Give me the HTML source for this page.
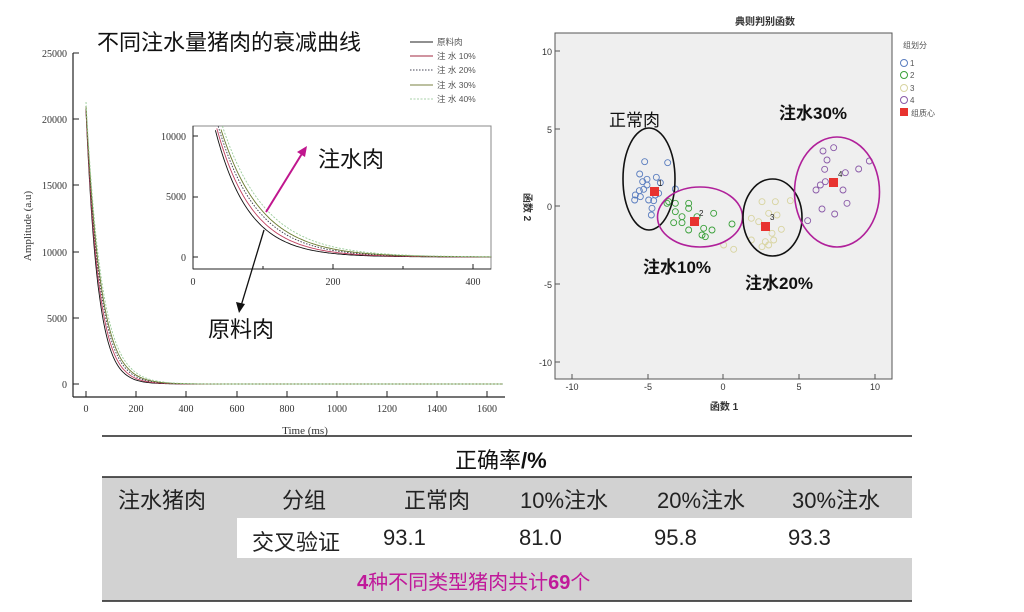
<!DOCTYPE html>
<html><head><meta charset="utf-8"><style>
body{margin:0;background:#fff;width:1024px;height:612px;overflow:hidden;position:relative;font-family:"Liberation Sans","Noto Sans CJK SC",sans-serif}
.t{position:absolute;white-space:nowrap}
</style></head><body>
<svg width="1024" height="612" style="position:absolute;left:0;top:0" xmlns="http://www.w3.org/2000/svg">
<!-- LEFT CHART -->
<g font-family="Liberation Serif,serif" font-size="10" fill="#333">
<line x1="73" y1="53" x2="73" y2="397" stroke="#222" stroke-width="1.2"/>
<line x1="73" y1="397" x2="505" y2="397" stroke="#222" stroke-width="1.2"/>
<g stroke="#222">
<line x1="73" y1="53" x2="79" y2="53"/><line x1="73" y1="119" x2="79" y2="119"/><line x1="73" y1="185" x2="79" y2="185"/><line x1="73" y1="252" x2="79" y2="252"/><line x1="73" y1="318" x2="79" y2="318"/><line x1="73" y1="384" x2="79" y2="384"/>
<line x1="86" y1="397" x2="86" y2="391"/><line x1="136" y1="397" x2="136" y2="391"/><line x1="186" y1="397" x2="186" y2="391"/><line x1="237" y1="397" x2="237" y2="391"/><line x1="287" y1="397" x2="287" y2="391"/><line x1="337" y1="397" x2="337" y2="391"/><line x1="387" y1="397" x2="387" y2="391"/><line x1="437" y1="397" x2="437" y2="391"/><line x1="487" y1="397" x2="487" y2="391"/>
</g>
<g text-anchor="end"><text x="67" y="57">25000</text><text x="67" y="123">20000</text><text x="67" y="189">15000</text><text x="67" y="256">10000</text><text x="67" y="322">5000</text><text x="67" y="388">0</text></g>
<g text-anchor="middle"><text x="86" y="412">0</text><text x="136" y="412">200</text><text x="186" y="412">400</text><text x="237" y="412">600</text><text x="287" y="412">800</text><text x="337" y="412">1000</text><text x="387" y="412">1200</text><text x="437" y="412">1400</text><text x="487" y="412">1600</text>
<text x="305" y="434" font-size="11">Time (ms)</text>
<text transform="translate(31 226) rotate(-90)" font-size="11">Amplitude (a.u)</text></g>
<g id="main"></g>
<!-- inset -->
<rect x="193" y="126" width="298" height="143" fill="#fff" stroke="#888" stroke-width="1"/>
<line x1="193" y1="126" x2="193" y2="269" stroke="#222"/><line x1="193" y1="269" x2="491" y2="269" stroke="#222"/>
<g stroke="#222"><line x1="193" y1="136" x2="198" y2="136"/><line x1="193" y1="197" x2="198" y2="197"/><line x1="193" y1="257" x2="198" y2="257"/><line x1="333" y1="269" x2="333" y2="264"/><line x1="473" y1="269" x2="473" y2="264"/><line x1="263" y1="269" x2="263" y2="266"/><line x1="403" y1="269" x2="403" y2="266"/></g>
<g text-anchor="end"><text x="186" y="140">10000</text><text x="186" y="200">5000</text><text x="186" y="261">0</text></g>
<g text-anchor="middle"><text x="193" y="285">0</text><text x="333" y="285">200</text><text x="473" y="285">400</text></g>
<g id="inset"></g>
</g>
<!-- arrows -->
<line x1="266" y1="212" x2="303" y2="152" stroke="#c0168e" stroke-width="2"/>
<polygon points="307,146 297,152 305,157" fill="#c0168e"/>
<line x1="264" y1="230" x2="241" y2="306" stroke="#111" stroke-width="1.3"/>
<polygon points="239,313 236,302 245,304" fill="#111"/>
<!-- legend -->
<g font-size="8.5" fill="#555">
<line x1="410" y1="42" x2="433" y2="42" stroke="#222"/><text x="437" y="45">原料肉</text>
<line x1="410" y1="56" x2="433" y2="56" stroke="#c07080" stroke-width="1.5"/><text x="437" y="59">注 水 10%</text>
<line x1="410" y1="70" x2="433" y2="70" stroke="#445" stroke-dasharray="1.5 1.5"/><text x="437" y="73">注 水 20%</text>
<line x1="410" y1="85" x2="433" y2="85" stroke="#7a8040"/><text x="437" y="88">注 水 30%</text>
<line x1="410" y1="99" x2="433" y2="99" stroke="#a8d0a8" stroke-dasharray="2 1.5"/><text x="437" y="102">注 水 40%</text>
</g>
<!-- RIGHT CHART -->
<rect x="555" y="33" width="337" height="346" fill="#efefef" stroke="#555" stroke-width="1"/>
<g font-size="9" fill="#333" text-anchor="end">
<text x="552" y="55">10</text><text x="552" y="133">5</text><text x="552" y="210">0</text><text x="552" y="288">-5</text><text x="552" y="366">-10</text></g>
<g stroke="#555"><line x1="555" y1="51" x2="560" y2="51"/><line x1="555" y1="129" x2="560" y2="129"/><line x1="555" y1="206" x2="560" y2="206"/><line x1="555" y1="284" x2="560" y2="284"/><line x1="555" y1="362" x2="560" y2="362"/>
<line x1="572" y1="379" x2="572" y2="374"/><line x1="648" y1="379" x2="648" y2="374"/><line x1="723" y1="379" x2="723" y2="374"/><line x1="799" y1="379" x2="799" y2="374"/><line x1="875" y1="379" x2="875" y2="374"/></g>
<g font-size="9" fill="#333" text-anchor="middle"><text x="572" y="390">-10</text><text x="648" y="390">-5</text><text x="723" y="390">0</text><text x="799" y="390">5</text><text x="875" y="390">10</text>
<text x="765" y="25" font-weight="bold" font-size="10">典则判别函数</text>
<text x="724" y="410" font-weight="bold" font-size="10">函数 1</text>
<text transform="translate(524 207) rotate(90)" font-weight="bold" font-size="10">函数 2</text></g>
<g id="pts" fill="none" stroke-width="0.9"></g>
<g fill="none" stroke-width="1.6">
<ellipse cx="649" cy="179" rx="26" ry="51" stroke="#111"/>
<ellipse cx="700" cy="217" rx="42.5" ry="30" stroke="#b0209a"/>
<ellipse cx="772.5" cy="217.5" rx="29.5" ry="38.5" stroke="#111"/>
<ellipse cx="837" cy="192" rx="42.5" ry="55" stroke="#b0209a"/>
</g>
<g fill="#e8332f"><rect x="650" y="187" width="9" height="9"/><rect x="690" y="217" width="9" height="9"/><rect x="761" y="222" width="9" height="9"/><rect x="829" y="178" width="9" height="9"/></g>
<g font-size="8" fill="#222"><text x="658" y="186">1</text><text x="699" y="216">2</text><text x="770" y="220">3</text><text x="838" y="177">4</text></g>
<g font-size="8" fill="#555"><text x="903" y="48">组划分</text>
<circle cx="904" cy="63" r="3.5" fill="none" stroke="#5a7dbf"/><text x="910" y="66">1</text>
<circle cx="904" cy="75" r="3.5" fill="none" stroke="#3aa03a"/><text x="910" y="78">2</text>
<circle cx="904" cy="88" r="3.5" fill="none" stroke="#d8d4a0"/><text x="910" y="91">3</text>
<circle cx="904" cy="100" r="3.5" fill="none" stroke="#8a5aa8"/><text x="910" y="103">4</text>
<rect x="900" y="108" width="8" height="8" fill="#e8332f"/><text x="911" y="116">组质心</text></g>
<g font-size="17" fill="#111" font-weight="bold" font-family="Liberation Sans,Noto Sans CJK SC,sans-serif">
<text x="609" y="126" font-weight="normal">正常肉</text>
<text x="779" y="119">注水30%</text>
<text x="643" y="273">注水10%</text>
<text x="745" y="289">注水20%</text></g>
<!-- TABLE -->
<rect x="102" y="477" width="810" height="124" fill="#d2d2d2"/>
<rect x="237" y="518" width="675" height="40" fill="#fff"/>
<line x1="102" y1="436" x2="912" y2="436" stroke="#222" stroke-width="1.5"/>
<line x1="102" y1="477" x2="912" y2="477" stroke="#222" stroke-width="1.5"/>
<line x1="102" y1="601" x2="912" y2="601" stroke="#222" stroke-width="1.5"/>
</svg>
<div class="t" style="left:97px;top:25px;font-size:22px;color:#111">不同注水量猪肉的衰减曲线</div>
<div class="t" style="left:318px;top:142px;font-size:22px;color:#111">注水肉</div>
<div class="t" style="left:208px;top:312px;font-size:22px;color:#111">原料肉</div>
<div class="t" style="left:455px;top:443px;font-size:22px;color:#111">正确率<b>/%</b></div>
<div class="t" style="left:118px;top:483px;font-size:22px;color:#222">注水猪肉</div>
<div class="t" style="left:282px;top:483px;font-size:22px;color:#222">分组</div>
<div class="t" style="left:404px;top:483px;font-size:22px;color:#222">正常肉</div>
<div class="t" style="left:520px;top:483px;font-size:22px;color:#222">10%注水</div>
<div class="t" style="left:657px;top:483px;font-size:22px;color:#222">20%注水</div>
<div class="t" style="left:792px;top:483px;font-size:22px;color:#222">30%注水</div>
<div class="t" style="left:252px;top:525px;font-size:22px;color:#222">交叉验证</div>
<div class="t" style="left:383px;top:525px;font-size:22px;color:#222">93.1</div>
<div class="t" style="left:519px;top:525px;font-size:22px;color:#222">81.0</div>
<div class="t" style="left:654px;top:525px;font-size:22px;color:#222">95.8</div>
<div class="t" style="left:788px;top:525px;font-size:22px;color:#222">93.3</div>
<div class="t" style="left:357px;top:566px;font-size:20px;color:#c0199a"><b>4</b>种不同类型猪肉共计<b>69</b>个</div>
<script>
var NS="http://www.w3.org/2000/svg";
var S=[["#111",47,"",20700],["#c04060",51,"",20700],["#334",55,"1.5 1.5",20800],["#6a7a30",58,"",21000],["#9c9",62,"2 1.5",21300]];
function mk(g,d,c,da){var p=document.createElementNS(NS,"path");p.setAttribute("d",d);p.setAttribute("fill","none");p.setAttribute("stroke",c);p.setAttribute("stroke-width","0.9");if(da)p.setAttribute("stroke-dasharray",da);document.getElementById(g).appendChild(p);}
S.forEach(function(s){var d="",e="";for(var t=0;t<=1660;t+=4){var v=s[3]*Math.exp(-t/s[1]);d+=(t?"L":"M")+(86+t*0.251).toFixed(1)+" "+(384-v*0.01324).toFixed(1);}
mk("main",d,s[0],s[2]);
var first=true;for(var t=0;t<=426;t+=2){var v=s[3]*Math.exp(-t/s[1]);var y=257-v*0.0121;if(y<126)continue;e+=(first?"M":"L")+(193+t*0.7).toFixed(1)+" "+y.toFixed(1);first=false;}
mk("inset",e,s[0],s[2]);});
var P=[["#5a7dbf",[[398,485],[467,488],[383,522],[392,545],[405,538],[433,532],[370,585],[382,572],[395,568],[410,600],[425,602],[440,580],[368,600],[420,625],[418,645],[490,567],[405,555],[445,548],[385,590],[430,585]]],
["#3aa03a",[[470,605],[490,610],[530,610],[490,635],[510,650],[485,668],[510,668],[530,690],[575,685],[600,690],[570,705],[580,710],[605,640],[660,672],[530,625],[555,650],[465,610]]],
["#d8d4a0",[[750,605],[790,605],[835,602],[718,655],[740,665],[770,640],[795,645],[808,688],[780,700],[760,725],[770,735],[750,740],[785,720],[635,735],[665,748],[718,720]]],
["#8a5aa8",[[933,453],[965,443],[945,480],[938,508],[1000,518],[1040,507],[1072,483],[925,555],[912,570],[940,545],[993,570],[1005,610],[930,627],[968,642],[887,662]]]];
var g=document.getElementById("pts");P.forEach(function(q){q[1].forEach(function(p){var c=document.createElementNS(NS,"circle");c.setAttribute("cx",512+p[0]/3);c.setAttribute("cy",p[1]/3);c.setAttribute("r",3);c.setAttribute("stroke",q[0]);g.appendChild(c);});});
</script>
</body></html>
